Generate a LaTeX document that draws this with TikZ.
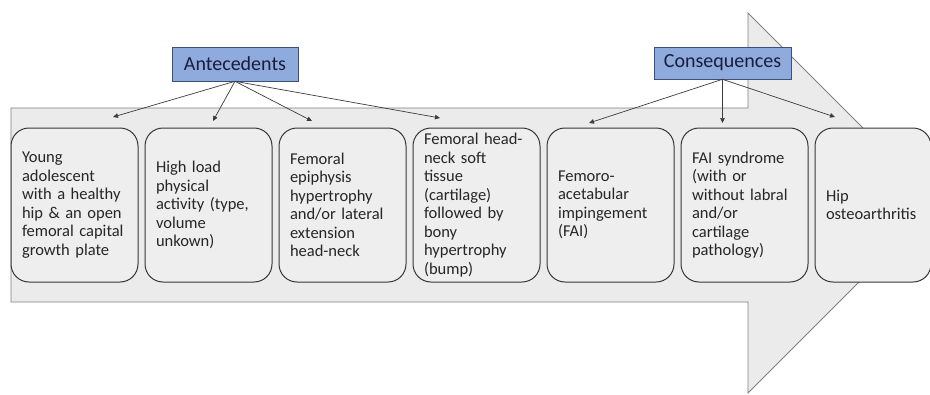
\documentclass[tikz,border=0pt]{standalone}
\usepackage{fontspec}
\setmainfont{Carlito}
\usepackage{tikz}
\usetikzlibrary{arrows.meta,positioning}
\definecolor{flowgray}{RGB}{235,235,235}
\definecolor{flowedge}{RGB}{128,128,128}
\definecolor{stagegray}{RGB}{238,238,238}
\definecolor{stageedge}{RGB}{55,55,55}
\definecolor{tagblue}{RGB}{143,170,220}
\definecolor{tagedge}{RGB}{60,80,120}
\definecolor{tagtext}{RGB}{25,30,60}
\definecolor{linkgray}{RGB}{60,60,60}

\tikzset{
  stage/.style={draw=stageedge,line width=1pt,fill=stagegray,rounded corners=18pt,
    minimum height=154pt,text width=105pt,inner xsep=11pt,inner ysep=0pt,align=left,
    font=\fontsize{16.5}{18.5}\selectfont,text=black!85},
  tag/.style={draw=tagedge,line width=0.6pt,fill=tagblue,inner sep=0pt,
    font=\fontsize{20}{24}\selectfont,text=tagtext},
  link/.style={draw=linkgray,line width=0.7pt,-{Triangle[length=5pt,width=4.5pt]}}
}

\begin{document}
\begin{tikzpicture}[x=1pt,y=-1pt]
  \clip (0,0) rectangle (930,394);
  \useasboundingbox (0,0) rectangle (930,394);

  % big process arrow
  \filldraw[fill=flowgray,draw=flowedge,line width=0.8pt]
    (11,108) -- (748,108) -- (748,13) -- (938,203) -- (748,393)
    -- (748,302) -- (11,302) -- cycle;

  % stages
  \node[stage,minimum width=127pt] (young) at (74.5,205) {Young\\adolescent\\with a healthy\\hip \& an open\\femoral capital\\growth plate};
  \node[stage,minimum width=127pt,right=6pt of young] (load) {High load\\physical\\activity (type,\\volume\\unkown)};
  \node[stage,minimum width=127pt,right=6pt of load] (epiph) {Femoral\\epiphysis\\hypertrophy\\and/or lateral\\extension\\head-neck};
  \node[stage,minimum width=127pt,right=6pt of epiph] (bump) {Femoral head-\\neck soft\\tissue\\(cartilage)\\followed by\\bony\\hypertrophy\\(bump)};
  \node[stage,minimum width=127pt,right=6pt of bump] (fai) {Femoro-\\acetabular\\impingement\\(FAI)};
  \node[stage,minimum width=127pt,right=6pt of fai] (faisyn) {FAI syndrome\\(with or\\without labral\\and/or\\cartilage\\pathology)};
  \node[stage,minimum width=116pt,text width=94pt,right=6pt of faisyn] (oa) {Hip\\osteoarthritis};

  % headings
  \node[tag,minimum width=126pt,minimum height=34pt] (ante) at (235,64) {Antecedents};
  \node[tag,minimum width=137pt,minimum height=32pt] (cons) at (722.5,63) {Consequences};

  \coordinate (a1) at (113,117);
  \coordinate (a2) at (213,121);
  \coordinate (a3) at (312,121);
  \coordinate (a4) at (440,118);
  \coordinate (c1) at (589,123);
  \coordinate (c2) at (722.5,123);
  \coordinate (c3) at (835,117);

  \foreach \t in {a1,a2,a3,a4}
    \draw[link] (ante.south) -- (\t);
  \foreach \t in {c1,c2,c3}
    \draw[link] (cons.south) -- (\t);
\end{tikzpicture}
\end{document}
